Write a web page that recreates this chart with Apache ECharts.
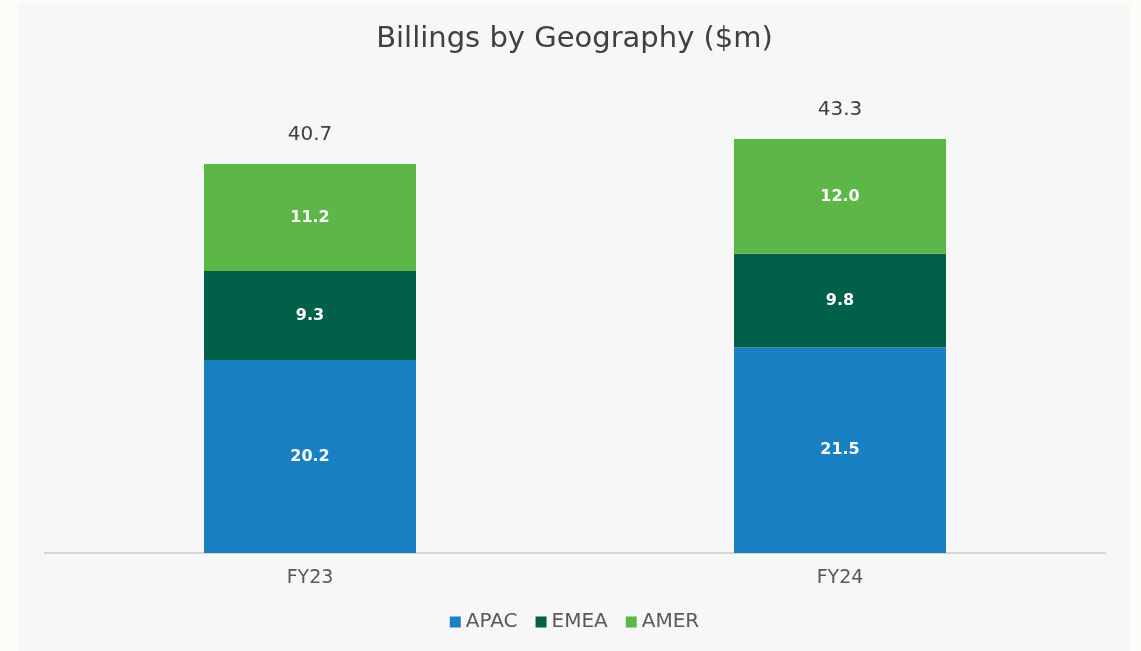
<!DOCTYPE html>
<html>
	<head>
		<meta charset="utf-8">
		<title>Billings by Geography</title>
		<style type="text/css">
			* {
				margin: 0;
				padding: 0;
			}

			body {
				width: 1141px;
				height: 651px;
				background: #fdfdf8;
				position: relative;
				overflow: hidden;
			}

			#chart {
				position: absolute;
				left: 18px;
				top: 3px;
				width: 1113px;
				height: 648px;
				background: #f7f7f7;
			}
		</style>
		<script src="https://cdn.jsdelivr.net/npm/echarts@6/dist/echarts.min.js"></script>
	</head>
	<body>
		<div id="chart"></div>
	</body>
	<script type="text/javascript">
		// data
		var years = ['FY23', 'FY24'];
		var apac = [20.2, 21.5];
		var emea = [9.3, 9.8];
		var amer = [11.2, 12.0];
		var totals = [40.7, 43.3];

		var font = 'DejaVu Sans';
		var chart = echarts.init(document.getElementById('chart'));

		function segLabel() {
			return {
				show: true,
				position: 'inside',
				color: '#ffffff',
				fontFamily: font,
				fontWeight: 'bold',
				fontSize: 16,
				formatter: function (p) {
					return p.value.toFixed(1);
				}
			};
		}

		var option = {
			animation: false,
			title: {
				text: 'Billings by Geography ($m)',
				left: 'center',
				top: 17,
				textStyle: {
					color: '#404040',
					fontFamily: font,
					fontWeight: 'normal',
					fontSize: 29
				}
			},
			legend: {
				bottom: 14,
				left: 'center',
				itemWidth: 11,
				itemHeight: 11,
				itemGap: 18,
				icon: 'rect',
				data: ['APAC', 'EMEA', 'AMER'],
				textStyle: {
					color: '#595959',
					fontFamily: font,
					fontSize: 20,
					padding: [0, 0, 0, 0]
				}
			},
			grid: {
				left: 27,
				right: 26,
				top: 72,
				bottom: 98
			},
			xAxis: {
				type: 'category',
				data: years,
				axisLine: {
					lineStyle: {
						color: '#d4d4d4',
						width: 2
					}
				},
				axisTick: { show: false },
				axisLabel: {
					color: '#595959',
					fontFamily: font,
					fontSize: 19,
					margin: 16
				}
			},
			yAxis: {
				type: 'value',
				min: 0,
				max: 50,
				show: false,
				splitLine: { show: false }
			},
			series: [{
				name: 'APAC',
				type: 'bar',
				stack: 'geo',
				barWidth: '40%',
				color: '#1a80c4',
				data: apac,
				label: segLabel()
			}, {
				name: 'EMEA',
				type: 'bar',
				stack: 'geo',
				color: '#00604a',
				data: emea,
				label: segLabel()
			}, {
				name: 'AMER',
				type: 'bar',
				stack: 'geo',
				color: '#5cb748',
				data: amer,
				label: segLabel()
			}, {
				name: 'Total',
				type: 'bar',
				stack: 'geo',
				data: [0, 0],
				itemStyle: { color: 'transparent' },
				label: {
					show: true,
					position: 'top',
					distance: 19,
					color: '#404040',
					fontFamily: font,
					fontSize: 20,
					formatter: function (p) {
						return totals[p.dataIndex].toFixed(1);
					}
				}
			}]
		};

		chart.setOption(option);
	</script>
</html>
